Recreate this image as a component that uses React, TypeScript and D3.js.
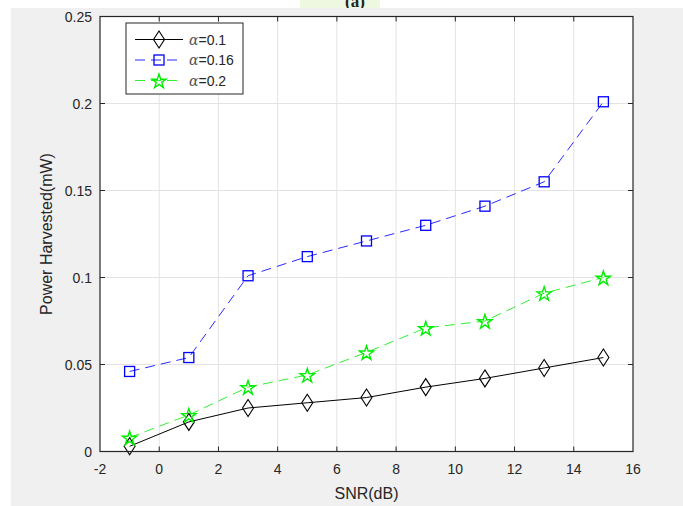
import React from "react";
import * as d3 from "d3";

const snr = [-1, 1, 3, 5, 7, 9, 11, 13, 15];
const alpha01 = [0.003, 0.017, 0.025, 0.028, 0.031, 0.037, 0.042, 0.048, 0.054];
const alpha016 = [0.046, 0.054, 0.101, 0.112, 0.121, 0.130, 0.141, 0.155, 0.201];
const alpha02 = [0.008, 0.021, 0.037, 0.044, 0.057, 0.071, 0.075, 0.091, 0.100];
const xTicks = [-2, 0, 2, 4, 6, 8, 10, 12, 14, 16];
const yTicks = [0, 0.05, 0.1, 0.15, 0.2, 0.25];
const yTickLabels = ["0", "0.05", "0.1", "0.15", "0.2", "0.25"];
const legendLabels = ["0.1", "0.16", "0.2"];

const W = 683;
const H = 506;
const left = 100;
const right = 633;
const top = 16.5;
const bottom = 451.5;

const FONT = "'Liberation Sans', Arial, Helvetica, sans-serif";

function starPath(cx: number, cy: number, R: number) {
  const r = R * 0.382;
  const pts: string[] = [];
  for (let i = 0; i < 10; i++) {
    const rad = i % 2 === 0 ? R : r;
    const a = -Math.PI / 2 + (i * Math.PI) / 5;
    pts.push(`${cx + rad * Math.cos(a)},${cy + rad * Math.sin(a)}`);
  }
  return "M" + pts.join("L") + "Z";
}

function Marker({ type, x, y }: { type: string; x: number; y: number }) {
  if (type === "diamond") {
    return (
      <path
        d={`M${x},${y - 8.5}L${x + 5.5},${y}L${x},${y + 8.5}L${x - 5.5},${y}Z`}
        fill="none"
        stroke="#000"
        strokeWidth={1.1}
      />
    );
  }
  if (type === "square") {
    return <rect x={x - 5} y={y - 5} width={10} height={10} fill="none" stroke="#0000ff" strokeWidth={1.3} />;
  }
  return <path d={starPath(x, y + 1, 7.5)} fill="none" stroke="#00ee00" strokeWidth={1.4} strokeLinejoin="miter" />;
}

export default function App() {
  const x = d3.scaleLinear().domain([-2, 16]).range([left, right]);
  const y = d3.scaleLinear().domain([0, 0.25]).range([bottom, top]);

  const series = [
    { data: alpha01, color: "#000000", dash: undefined as string | undefined, marker: "diamond", width: 1 },
    { data: alpha016, color: "#2a2aff", dash: "10,6", marker: "square", width: 1 },
    { data: alpha02, color: "#33ee33", dash: "10,6", marker: "star", width: 1 },
  ];

  const line = d3
    .line<number>()
    .x((_, i) => x(snr[i]))
    .y((d) => y(d));

  const legX = 126;
  const legY = 23;
  const rows = [39.5, 60, 80.5];

  return (
    <svg
      width={W}
      height={H}
      style={{ position: "absolute", left: 0, top: 0, display: "block" }}
      fontFamily={FONT}
    >
      <rect x={0} y={0} width={W} height={H} fill="#ffffff" />
      <defs>
        <clipPath id="topclip">
          <rect x={0} y={0} width={W} height={8} />
        </clipPath>
        <clipPath id="plotclip">
          <rect x={left} y={top} width={right - left} height={bottom - top} />
        </clipPath>
      </defs>
      <g clipPath="url(#topclip)">
        <rect x={300} y={0} width={80} height={8} fill="#eef7e0" />
        <text x={355} y={7} textAnchor="middle" fontSize={17} fontWeight="bold" fill="#222" fontFamily="'Liberation Serif', serif">
          (a)
        </text>
      </g>
      <rect x={11} y={8} width={W - 11} height={H - 8} fill="#f0f0f0" />
      <rect x={left} y={top} width={right - left} height={bottom - top} fill="#ffffff" />

      {/* grid */}
      {xTicks.slice(1, -1).map((t) => (
        <line key={"gx" + t} x1={x(t)} x2={x(t)} y1={top} y2={bottom} stroke="#e3e3e3" strokeWidth={1} />
      ))}
      {yTicks.slice(1, -1).map((t) => (
        <line key={"gy" + t} x1={left} x2={right} y1={y(t)} y2={y(t)} stroke="#e3e3e3" strokeWidth={1} />
      ))}

      {/* series */}
      <g clipPath="url(#plotclip)">
        {series.map((s, si) => (
          <path
            key={"l" + si}
            d={line(s.data) || ""}
            fill="none"
            stroke={s.color}
            strokeWidth={s.width}
            strokeDasharray={s.dash}
          />
        ))}
      </g>
      {series.map((s, si) =>
        s.data.map((v, i) => <Marker key={`m${si}-${i}`} type={s.marker} x={x(snr[i])} y={y(v)} />)
      )}

      {/* axes box */}
      <rect x={left} y={top} width={right - left} height={bottom - top} fill="none" stroke="#262626" strokeWidth={1.2} />
      {xTicks.slice(1, -1).map((t) => (
        <g key={"tx" + t}>
          <line x1={x(t)} x2={x(t)} y1={bottom} y2={bottom - 5} stroke="#262626" />
          <line x1={x(t)} x2={x(t)} y1={top} y2={top + 5} stroke="#262626" />
        </g>
      ))}
      {yTicks.slice(1, -1).map((t) => (
        <g key={"ty" + t}>
          <line x1={left} x2={left + 5} y1={y(t)} y2={y(t)} stroke="#262626" />
          <line x1={right} x2={right - 5} y1={y(t)} y2={y(t)} stroke="#262626" />
        </g>
      ))}

      {/* tick labels */}
      {xTicks.map((t) => (
        <text key={"xl" + t} x={x(t)} y={bottom + 22} textAnchor="middle" fontSize={14} fill="#262626">
          {String(t)}
        </text>
      ))}
      {yTicks.map((t, i) => (
        <text key={"yl" + t} x={left - 8} y={y(t) + 5} textAnchor="end" fontSize={14} fill="#262626">
          {yTickLabels[i]}
        </text>
      ))}

      {/* axis labels */}
      <text x={x(7)} y={499} textAnchor="middle" fontSize={16} fill="#262626">
        SNR(dB)
      </text>
      <text
        transform={`translate(52,${(top + bottom) / 2}) rotate(-90)`}
        textAnchor="middle"
        fontSize={16}
        fill="#262626"
      >
        Power Harvested(mW)
      </text>

      {/* legend */}
      <rect x={legX} y={legY} width={117} height={71} fill="#ffffff" stroke="#262626" strokeWidth={1} />
      {series.map((s, i) => (
        <g key={"leg" + i}>
          <line x1={135} x2={183} y1={rows[i]} y2={rows[i]} stroke={s.color} strokeWidth={s.width} strokeDasharray={s.dash} />
          <Marker type={s.marker} x={159} y={rows[i]} />
          <text x={189} y={rows[i] + 5} fontSize={14} fill="#262626">
            <tspan fontFamily="'DejaVu Serif', serif" fontStyle="italic" fill="#555">α</tspan>
            <tspan>={legendLabels[i]}</tspan>
          </text>
        </g>
      ))}
    </svg>
  );
}
